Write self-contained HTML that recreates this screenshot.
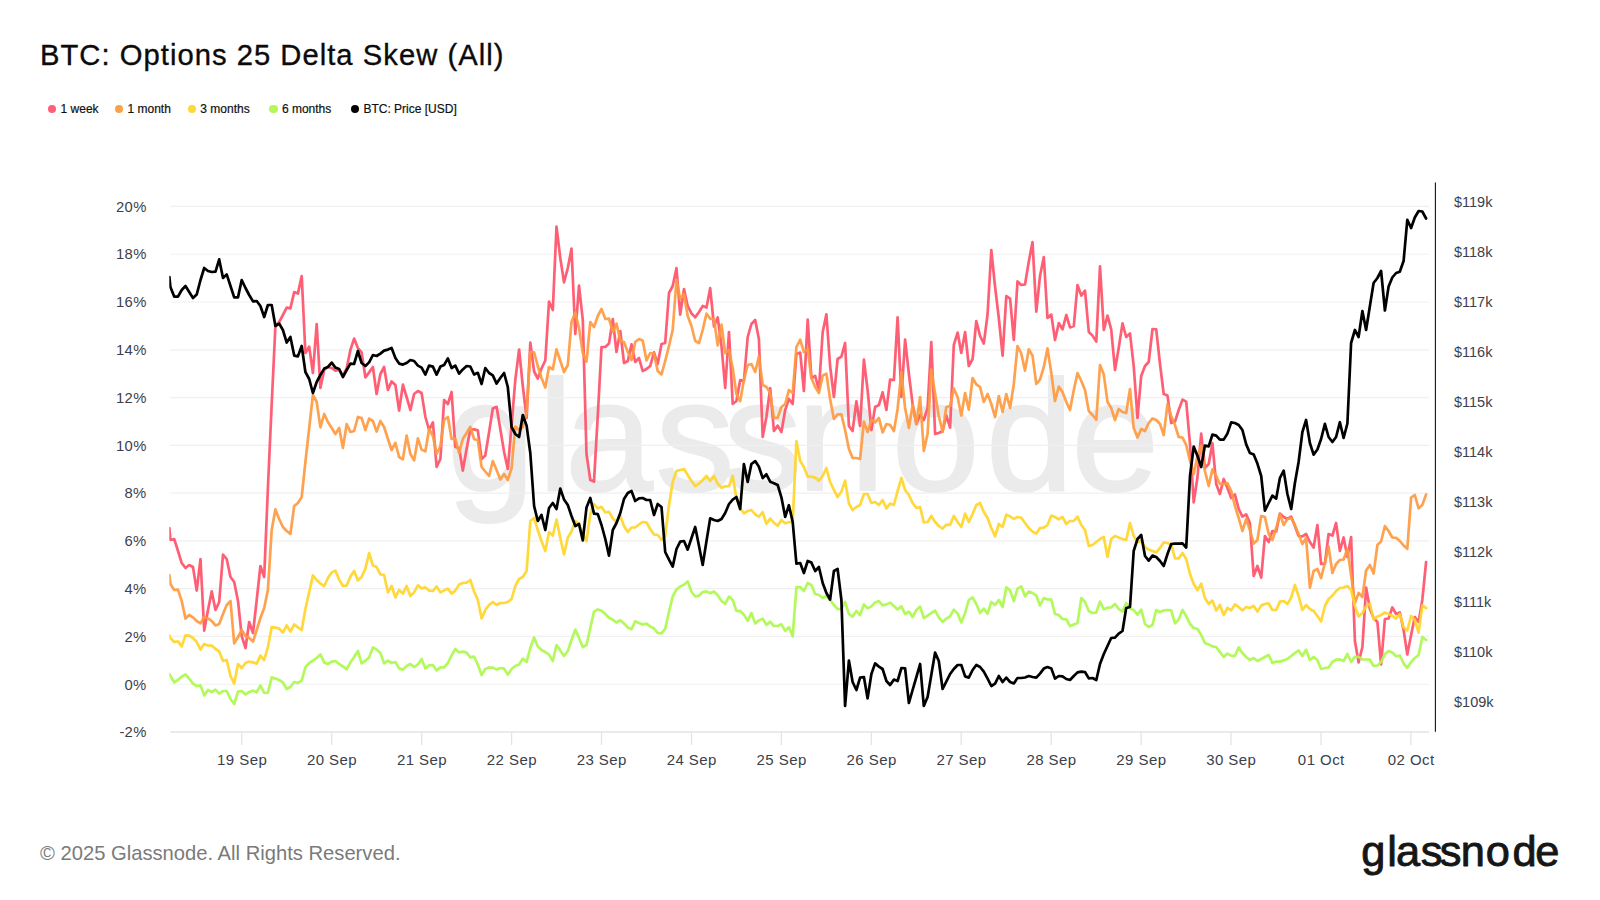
<!DOCTYPE html>
<html lang="en"><head><meta charset="utf-8"><title>BTC: Options 25 Delta Skew (All)</title>
<style>
html,body{margin:0;padding:0;background:#fff;}
body{width:1600px;height:900px;position:relative;overflow:hidden;font-family:"Liberation Sans",sans-serif;}
.title{position:absolute;left:40px;top:34.8px;font-size:29.2px;line-height:40px;color:#0b0b0b;white-space:nowrap;letter-spacing:1.03px;-webkit-text-stroke:0.35px #0b0b0b;}
.legend{position:absolute;top:101px;left:0;height:16px;font-size:12px;line-height:16px;color:#111;white-space:nowrap;-webkit-text-stroke:0.2px #111;}
.legend span.it{position:absolute;top:0;}
.legend i{position:absolute;top:3.7px;width:8.2px;height:8.2px;border-radius:50%;}
.foot{position:absolute;left:40px;top:841px;font-size:20.2px;line-height:24px;color:#7a7a7a;white-space:nowrap;}
svg{position:absolute;left:0;top:0;}
svg text{font-family:"Liberation Sans",sans-serif;}
</style></head><body>
<div class="title">BTC: Options 25 Delta Skew (All)</div>
<div class="legend"><i style="left:47.6px;background:#ff6078"></i><span class="it" style="left:60.6px">1 week</span><i style="left:115px;background:#fda04a"></i><span class="it" style="left:127.5px">1 month</span><i style="left:187.5px;background:#fed836"></i><span class="it" style="left:200.3px">3 months</span><i style="left:269.4px;background:#b3f759"></i><span class="it" style="left:281.9px">6 months</span><i style="left:351px;background:#000"></i><span class="it" style="left:363.4px">BTC: Price [USD]</span></div>
<svg width="1600" height="900" viewBox="0 0 1600 900">
<text x="447.1 538 565 655.4 723.1 796.9 891.8 985.8 1071.2" y="490" font-size="158" fill="#ebebeb" stroke="#ebebeb" stroke-width="2" stroke-linejoin="round">glassnode</text>
<line x1="170.5" x2="1429" y1="732.03" y2="732.03" stroke="#f0f0f0" stroke-width="1.2"/>
<line x1="170.5" x2="1429" y1="684.25" y2="684.25" stroke="#f0f0f0" stroke-width="1.2"/>
<line x1="170.5" x2="1429" y1="636.47" y2="636.47" stroke="#f0f0f0" stroke-width="1.2"/>
<line x1="170.5" x2="1429" y1="588.69" y2="588.69" stroke="#f0f0f0" stroke-width="1.2"/>
<line x1="170.5" x2="1429" y1="540.91" y2="540.91" stroke="#f0f0f0" stroke-width="1.2"/>
<line x1="170.5" x2="1429" y1="493.13" y2="493.13" stroke="#f0f0f0" stroke-width="1.2"/>
<line x1="170.5" x2="1429" y1="445.35" y2="445.35" stroke="#f0f0f0" stroke-width="1.2"/>
<line x1="170.5" x2="1429" y1="397.57" y2="397.57" stroke="#f0f0f0" stroke-width="1.2"/>
<line x1="170.5" x2="1429" y1="349.79" y2="349.79" stroke="#f0f0f0" stroke-width="1.2"/>
<line x1="170.5" x2="1429" y1="302.01" y2="302.01" stroke="#f0f0f0" stroke-width="1.2"/>
<line x1="170.5" x2="1429" y1="254.23" y2="254.23" stroke="#f0f0f0" stroke-width="1.2"/>
<line x1="170.5" x2="1429" y1="206.45" y2="206.45" stroke="#f0f0f0" stroke-width="1.2"/>
<line x1="170.5" x2="1429" y1="731.8" y2="731.8" stroke="#e4e4e4" stroke-width="1.3"/>
<line x1="241.8" x2="241.8" y1="732" y2="745" stroke="#e4e4e4" stroke-width="1.3"/><text x="242.1" y="764.8" text-anchor="middle" font-size="15" letter-spacing="0.45" fill="#3b3f4c">19 Sep</text>
<line x1="331.7" x2="331.7" y1="732" y2="745" stroke="#e4e4e4" stroke-width="1.3"/><text x="332.0" y="764.8" text-anchor="middle" font-size="15" letter-spacing="0.45" fill="#3b3f4c">20 Sep</text>
<line x1="421.7" x2="421.7" y1="732" y2="745" stroke="#e4e4e4" stroke-width="1.3"/><text x="422.0" y="764.8" text-anchor="middle" font-size="15" letter-spacing="0.45" fill="#3b3f4c">21 Sep</text>
<line x1="511.6" x2="511.6" y1="732" y2="745" stroke="#e4e4e4" stroke-width="1.3"/><text x="511.9" y="764.8" text-anchor="middle" font-size="15" letter-spacing="0.45" fill="#3b3f4c">22 Sep</text>
<line x1="601.5" x2="601.5" y1="732" y2="745" stroke="#e4e4e4" stroke-width="1.3"/><text x="601.8" y="764.8" text-anchor="middle" font-size="15" letter-spacing="0.45" fill="#3b3f4c">23 Sep</text>
<line x1="691.5" x2="691.5" y1="732" y2="745" stroke="#e4e4e4" stroke-width="1.3"/><text x="691.8" y="764.8" text-anchor="middle" font-size="15" letter-spacing="0.45" fill="#3b3f4c">24 Sep</text>
<line x1="781.4" x2="781.4" y1="732" y2="745" stroke="#e4e4e4" stroke-width="1.3"/><text x="781.7" y="764.8" text-anchor="middle" font-size="15" letter-spacing="0.45" fill="#3b3f4c">25 Sep</text>
<line x1="871.3" x2="871.3" y1="732" y2="745" stroke="#e4e4e4" stroke-width="1.3"/><text x="871.6" y="764.8" text-anchor="middle" font-size="15" letter-spacing="0.45" fill="#3b3f4c">26 Sep</text>
<line x1="961.2" x2="961.2" y1="732" y2="745" stroke="#e4e4e4" stroke-width="1.3"/><text x="961.5" y="764.8" text-anchor="middle" font-size="15" letter-spacing="0.45" fill="#3b3f4c">27 Sep</text>
<line x1="1051.2" x2="1051.2" y1="732" y2="745" stroke="#e4e4e4" stroke-width="1.3"/><text x="1051.5" y="764.8" text-anchor="middle" font-size="15" letter-spacing="0.45" fill="#3b3f4c">28 Sep</text>
<line x1="1141.1" x2="1141.1" y1="732" y2="745" stroke="#e4e4e4" stroke-width="1.3"/><text x="1141.4" y="764.8" text-anchor="middle" font-size="15" letter-spacing="0.45" fill="#3b3f4c">29 Sep</text>
<line x1="1231.0" x2="1231.0" y1="732" y2="745" stroke="#e4e4e4" stroke-width="1.3"/><text x="1231.3" y="764.8" text-anchor="middle" font-size="15" letter-spacing="0.45" fill="#3b3f4c">30 Sep</text>
<line x1="1321.0" x2="1321.0" y1="732" y2="745" stroke="#e4e4e4" stroke-width="1.3"/><text x="1321.3" y="764.8" text-anchor="middle" font-size="15" letter-spacing="0.45" fill="#3b3f4c">01 Oct</text>
<line x1="1410.9" x2="1410.9" y1="732" y2="745" stroke="#e4e4e4" stroke-width="1.3"/><text x="1411.2" y="764.8" text-anchor="middle" font-size="15" letter-spacing="0.45" fill="#3b3f4c">02 Oct</text>
<text x="146.6" y="737.2" text-anchor="end" font-size="14.8" letter-spacing="0.3" fill="#3b3f4c">-2%</text>
<text x="146.6" y="689.5" text-anchor="end" font-size="14.8" letter-spacing="0.3" fill="#3b3f4c">0%</text>
<text x="146.6" y="641.7" text-anchor="end" font-size="14.8" letter-spacing="0.3" fill="#3b3f4c">2%</text>
<text x="146.6" y="593.9" text-anchor="end" font-size="14.8" letter-spacing="0.3" fill="#3b3f4c">4%</text>
<text x="146.6" y="546.1" text-anchor="end" font-size="14.8" letter-spacing="0.3" fill="#3b3f4c">6%</text>
<text x="146.6" y="498.3" text-anchor="end" font-size="14.8" letter-spacing="0.3" fill="#3b3f4c">8%</text>
<text x="146.6" y="450.6" text-anchor="end" font-size="14.8" letter-spacing="0.3" fill="#3b3f4c">10%</text>
<text x="146.6" y="402.8" text-anchor="end" font-size="14.8" letter-spacing="0.3" fill="#3b3f4c">12%</text>
<text x="146.6" y="355.0" text-anchor="end" font-size="14.8" letter-spacing="0.3" fill="#3b3f4c">14%</text>
<text x="146.6" y="307.2" text-anchor="end" font-size="14.8" letter-spacing="0.3" fill="#3b3f4c">16%</text>
<text x="146.6" y="259.4" text-anchor="end" font-size="14.8" letter-spacing="0.3" fill="#3b3f4c">18%</text>
<text x="146.6" y="211.6" text-anchor="end" font-size="14.8" letter-spacing="0.3" fill="#3b3f4c">20%</text>
<line x1="1435.4" x2="1435.4" y1="182.5" y2="731.8" stroke="#111" stroke-width="1.1"/>
<text x="1454" y="706.5" font-size="14.5" fill="#3b3f4c">$109k</text>
<text x="1454" y="656.5" font-size="14.5" fill="#3b3f4c">$110k</text>
<text x="1454" y="606.6" font-size="14.5" fill="#3b3f4c">$111k</text>
<text x="1454" y="556.6" font-size="14.5" fill="#3b3f4c">$112k</text>
<text x="1454" y="506.7" font-size="14.5" fill="#3b3f4c">$113k</text>
<text x="1454" y="456.8" font-size="14.5" fill="#3b3f4c">$114k</text>
<text x="1454" y="406.8" font-size="14.5" fill="#3b3f4c">$115k</text>
<text x="1454" y="356.8" font-size="14.5" fill="#3b3f4c">$116k</text>
<text x="1454" y="306.9" font-size="14.5" fill="#3b3f4c">$117k</text>
<text x="1454" y="256.9" font-size="14.5" fill="#3b3f4c">$118k</text>
<text x="1454" y="207.0" font-size="14.5" fill="#3b3f4c">$119k</text>
<defs><clipPath id="plot"><rect x="169.3" y="180" width="1262" height="556"/></clipPath></defs>
<g clip-path="url(#plot)">
<polyline fill="none" stroke="#ff5169" stroke-width="2.7" stroke-opacity="0.92" stroke-linejoin="round" stroke-linecap="round" points="169.4,528.0 170.4,540.0 174.2,539.0 178.0,551.0 181.7,563.0 185.5,568.0 189.2,565.0 193.0,567.0 196.7,590.6 200.5,559.0 204.2,630.6 208.0,610.0 211.7,591.4 215.5,610.0 219.2,602.0 223.0,554.6 226.7,559.0 230.5,577.0 234.2,582.0 238.0,601.0 241.7,636.0 245.5,648.0 249.2,622.0 253.0,633.0 256.7,600.0 260.4,566.0 264.2,577.0 267.9,488.0 271.7,404.0 275.4,326.0 279.2,322.0 282.9,315.0 286.7,307.6 290.4,308.4 294.2,292.0 297.9,293.6 301.7,276.0 305.4,353.0 309.2,346.6 312.9,373.0 316.7,324.0 320.4,388.0 324.2,370.0 327.9,367.0 331.7,368.0 335.4,370.6 339.2,370.0 342.9,376.0 346.7,368.0 350.4,350.0 354.1,338.6 357.9,348.0 361.6,352.4 365.4,377.4 369.1,372.4 372.9,367.0 376.6,394.0 380.4,374.0 384.1,367.0 387.9,390.0 391.6,381.4 395.4,385.0 399.1,410.6 402.9,384.6 406.6,397.0 410.4,410.0 414.1,394.0 417.9,391.0 421.6,393.0 425.4,417.0 429.1,430.0 432.9,422.4 436.6,467.0 440.4,459.0 444.1,400.0 447.9,404.0 451.6,392.0 455.3,447.0 459.1,448.0 462.8,470.6 466.6,449.0 470.3,429.5 474.1,429.4 477.8,430.4 481.6,459.0 485.3,455.5 489.1,432.0 492.8,408.5 496.6,406.8 500.3,429.0 504.1,452.0 507.8,469.0 511.6,425.0 515.3,380.0 519.1,349.5 522.8,386.0 526.6,418.0 530.3,342.5 534.1,371.5 537.8,378.5 541.5,368.5 545.3,360.5 549.0,301.6 552.8,310.0 556.5,226.6 560.3,258.0 564.0,282.4 567.8,268.0 571.5,248.6 575.3,334.0 579.0,285.6 582.8,320.0 586.5,454.0 590.3,480.0 594.0,481.6 597.8,415.0 601.5,347.0 605.3,347.0 609.0,343.6 612.8,319.0 616.5,352.0 620.3,331.0 624.0,363.0 627.8,361.0 631.5,344.4 635.2,362.0 639.0,358.0 642.7,371.0 646.5,369.0 650.2,366.0 654.0,352.4 657.7,364.0 661.5,344.0 665.2,343.0 669.0,293.0 672.7,286.0 676.5,268.0 680.2,314.6 684.0,289.0 687.7,306.0 691.5,313.4 695.2,317.4 699.0,312.0 702.7,306.0 706.5,307.6 710.2,288.2 714.0,326.5 717.7,317.4 721.5,346.0 725.2,387.8 729.0,332.0 732.7,404.0 736.4,401.0 740.2,380.0 743.9,381.0 747.7,337.0 751.4,324.0 755.2,320.0 758.9,339.0 762.7,437.0 766.4,417.0 770.2,388.0 773.9,431.0 777.7,425.6 781.4,432.0 785.2,410.0 788.9,399.0 792.7,404.0 796.4,354.0 800.2,352.6 803.9,391.0 807.7,319.6 811.4,378.0 815.2,376.0 818.9,390.0 822.7,332.0 826.4,314.4 830.1,366.0 833.9,397.0 837.6,359.0 841.4,356.6 845.1,343.0 848.9,426.0 852.6,431.0 856.4,401.4 860.1,426.0 863.9,359.6 867.6,390.0 871.4,430.0 875.1,407.0 878.9,405.0 882.6,392.4 886.4,410.0 890.1,379.6 893.9,380.0 897.6,317.4 901.4,397.0 905.1,339.6 908.9,374.0 912.6,404.0 916.4,424.0 920.1,415.0 923.8,420.0 927.6,408.0 931.3,342.0 935.1,434.0 938.8,433.0 942.6,431.0 946.3,415.6 950.1,427.6 953.8,345.0 957.6,332.6 961.3,353.0 965.1,332.0 968.8,366.0 972.6,359.0 976.3,321.0 980.1,336.0 983.8,343.6 987.6,314.0 991.3,250.0 995.1,287.0 998.8,318.0 1002.6,355.6 1006.3,296.0 1010.1,298.6 1013.8,340.0 1017.5,281.4 1021.3,284.9 1025.0,284.5 1028.8,261.5 1032.5,242.0 1036.3,311.6 1040.0,276.0 1043.8,257.0 1047.5,318.0 1051.3,314.6 1055.0,340.0 1058.8,323.0 1062.5,329.4 1066.3,315.0 1070.0,327.4 1073.8,326.0 1077.5,285.0 1081.3,295.6 1085.0,290.6 1088.8,332.0 1092.5,335.6 1096.3,341.6 1100.0,266.4 1103.8,330.0 1107.5,315.6 1111.2,329.4 1115.0,370.0 1118.7,348.0 1122.5,323.4 1126.2,337.0 1130.0,333.4 1133.7,366.0 1137.5,418.0 1141.2,376.0 1145.0,366.0 1148.7,362.0 1152.5,329.0 1156.2,329.4 1160.0,364.0 1163.7,394.0 1167.5,395.6 1171.2,423.0 1175.0,421.6 1178.7,410.0 1182.5,399.6 1186.2,401.6 1190.0,444.0 1193.7,502.4 1197.5,477.0 1201.2,433.6 1204.9,468.0 1208.7,464.0 1212.4,443.0 1216.2,484.0 1219.9,494.0 1223.7,479.0 1227.4,488.0 1231.2,498.0 1234.9,494.4 1238.7,509.0 1242.4,516.6 1246.2,514.4 1249.9,523.0 1253.7,576.0 1257.4,566.0 1261.2,577.6 1264.9,536.0 1268.7,542.0 1272.4,531.0 1276.2,531.4 1279.9,513.6 1283.7,517.0 1287.4,519.0 1291.2,516.6 1294.9,526.0 1298.6,536.0 1302.4,536.4 1306.1,534.0 1309.9,542.0 1313.6,547.6 1317.4,525.0 1321.1,564.0 1324.9,563.6 1328.6,534.0 1332.4,535.6 1336.1,523.0 1339.9,551.0 1343.6,537.5 1347.4,557.0 1351.1,537.0 1354.9,641.0 1358.6,662.5 1362.4,647.0 1366.1,587.5 1369.9,609.0 1373.6,618.0 1377.4,622.0 1381.1,664.5 1384.9,619.0 1388.6,618.5 1392.3,607.5 1396.1,614.0 1399.8,612.5 1403.6,630.0 1407.3,654.5 1411.1,635.0 1414.8,617.0 1418.6,622.0 1422.3,600.0 1426.1,562.0"/>
<polyline fill="none" stroke="#fe9a40" stroke-width="2.7" stroke-opacity="0.92" stroke-linejoin="round" stroke-linecap="round" points="169.4,575.0 170.4,584.0 174.2,590.0 178.0,589.6 181.7,601.0 185.5,618.6 189.2,615.0 193.0,617.4 196.7,621.0 200.5,623.4 204.2,617.0 208.0,618.4 211.7,621.0 215.5,625.4 219.2,624.0 223.0,614.0 226.7,605.0 230.5,601.0 234.2,643.4 238.0,637.0 241.7,630.0 245.5,636.0 249.2,638.0 253.0,641.6 256.7,630.0 260.4,618.0 264.2,608.0 267.9,590.0 271.7,530.0 275.4,509.4 279.2,519.0 282.9,527.0 286.7,531.0 290.4,534.0 294.2,506.0 297.9,503.0 301.7,497.0 305.4,462.0 309.2,428.0 312.9,395.0 316.7,402.0 320.4,427.4 324.2,414.0 327.9,422.0 331.7,428.0 335.4,434.0 339.2,428.0 342.9,448.0 346.7,424.0 350.4,432.0 354.1,431.0 357.9,417.0 361.6,418.0 365.4,430.0 369.1,418.6 372.9,421.0 376.6,431.6 380.4,421.0 384.1,427.0 387.9,439.0 391.6,450.0 395.4,443.0 399.1,457.0 402.9,459.4 406.6,435.6 410.4,454.0 414.1,460.4 417.9,438.4 421.6,449.6 425.4,451.4 429.1,429.0 432.9,436.0 436.6,454.0 440.4,446.0 444.1,420.0 447.9,417.0 451.6,439.0 455.3,438.6 459.1,453.0 462.8,439.0 466.6,433.0 470.3,426.8 474.1,439.2 477.8,440.0 481.6,467.0 485.3,471.5 489.1,476.0 492.8,461.0 496.6,470.0 500.3,479.5 504.1,474.0 507.8,480.0 511.6,468.0 515.3,426.5 519.1,430.0 522.8,427.0 526.6,413.0 530.3,352.0 534.1,352.4 537.8,366.0 541.5,378.0 545.3,387.6 549.0,367.0 552.8,369.4 556.5,349.4 560.3,361.0 564.0,372.0 567.8,365.0 571.5,322.0 575.3,312.4 579.0,328.0 582.8,353.0 586.5,361.6 590.3,322.0 594.0,327.0 597.8,316.0 601.5,309.0 605.3,319.0 609.0,318.6 612.8,332.0 616.5,323.6 620.3,341.0 624.0,342.0 627.8,352.0 631.5,360.0 635.2,342.0 639.0,339.0 642.7,340.4 646.5,360.4 650.2,353.0 654.0,353.6 657.7,371.0 661.5,374.4 665.2,361.0 669.0,346.0 672.7,330.0 676.5,280.0 680.2,299.0 684.0,294.0 687.7,316.0 691.5,326.0 695.2,341.0 699.0,343.0 702.7,330.0 706.5,313.6 710.2,318.8 714.0,319.0 717.7,345.3 721.5,324.7 725.2,353.0 729.0,350.0 732.7,368.0 736.4,394.0 740.2,401.0 743.9,380.0 747.7,365.0 751.4,364.0 755.2,372.0 758.9,356.6 762.7,385.0 766.4,387.0 770.2,393.0 773.9,418.0 777.7,417.6 781.4,407.0 785.2,404.0 788.9,390.0 792.7,393.0 796.4,347.0 800.2,339.6 803.9,352.0 807.7,349.0 811.4,378.0 815.2,387.0 818.9,393.0 822.7,375.6 826.4,373.6 830.1,399.0 833.9,419.0 837.6,414.4 841.4,414.4 845.1,430.0 848.9,449.0 852.6,458.0 856.4,458.0 860.1,459.0 863.9,421.6 867.6,432.0 871.4,420.0 875.1,422.4 878.9,418.0 882.6,432.4 886.4,424.0 890.1,425.0 893.9,431.0 897.6,409.0 901.4,372.0 905.1,408.0 908.9,428.0 912.6,405.0 916.4,424.0 920.1,397.0 923.8,451.0 927.6,433.6 931.3,369.6 935.1,394.0 938.8,416.0 942.6,432.0 946.3,407.0 950.1,406.0 953.8,388.6 957.6,397.0 961.3,415.6 965.1,393.0 968.8,409.6 972.6,378.0 976.3,384.4 980.1,387.0 983.8,402.0 987.6,394.0 991.3,404.0 995.1,417.0 998.8,396.0 1002.6,412.0 1006.3,394.0 1010.1,408.0 1013.8,384.0 1017.5,346.0 1021.3,353.5 1025.0,370.6 1028.8,349.3 1032.5,355.6 1036.3,384.0 1040.0,379.6 1043.8,367.0 1047.5,348.4 1051.3,373.0 1055.0,401.0 1058.8,386.6 1062.5,392.0 1066.3,402.0 1070.0,410.0 1073.8,390.0 1077.5,373.0 1081.3,381.0 1085.0,390.0 1088.8,411.0 1092.5,415.0 1096.3,419.6 1100.0,365.0 1103.8,374.4 1107.5,402.0 1111.2,408.0 1115.0,420.0 1118.7,409.0 1122.5,412.0 1126.2,413.0 1130.0,389.0 1133.7,428.0 1137.5,437.4 1141.2,429.0 1145.0,431.0 1148.7,423.0 1152.5,418.4 1156.2,420.0 1160.0,424.0 1163.7,435.0 1167.5,404.0 1171.2,416.0 1175.0,425.0 1178.7,437.0 1182.5,437.6 1186.2,445.0 1190.0,461.0 1193.7,474.0 1197.5,456.0 1201.2,445.6 1204.9,471.0 1208.7,486.0 1212.4,469.4 1216.2,476.0 1219.9,484.0 1223.7,484.0 1227.4,483.0 1231.2,491.0 1234.9,506.0 1238.7,518.0 1242.4,531.0 1246.2,519.0 1249.9,530.0 1253.7,543.6 1257.4,540.0 1261.2,516.0 1264.9,517.0 1268.7,534.0 1272.4,540.0 1276.2,528.0 1279.9,514.0 1283.7,525.0 1287.4,519.0 1291.2,518.0 1294.9,525.0 1298.6,534.0 1302.4,544.0 1306.1,538.0 1309.9,587.6 1313.6,571.0 1317.4,569.0 1321.1,578.0 1324.9,563.0 1328.6,546.4 1332.4,573.0 1336.1,564.0 1339.9,560.0 1343.6,559.5 1347.4,549.0 1351.1,575.0 1354.9,603.0 1358.6,593.0 1362.4,597.0 1366.1,570.5 1369.9,565.0 1373.6,573.5 1377.4,545.0 1381.1,541.5 1384.9,526.0 1388.6,531.0 1392.3,537.5 1396.1,537.8 1399.8,541.0 1403.6,545.5 1407.3,548.8 1411.1,497.5 1414.8,495.0 1418.6,508.3 1422.3,505.0 1426.1,494.5"/>
<polyline fill="none" stroke="#ffd52a" stroke-width="2.7" stroke-opacity="0.92" stroke-linejoin="round" stroke-linecap="round" points="169.4,635.4 170.4,638.0 174.2,642.0 178.0,641.4 181.7,646.4 185.5,635.4 189.2,635.6 193.0,638.0 196.7,642.0 200.5,649.6 204.2,644.0 208.0,645.6 211.7,645.6 215.5,649.0 219.2,651.4 223.0,661.0 226.7,660.0 230.5,676.0 234.2,683.6 238.0,664.0 241.7,668.0 245.5,663.0 249.2,661.6 253.0,662.4 256.7,663.6 260.4,655.6 264.2,660.0 267.9,647.0 271.7,627.0 275.4,627.6 279.2,628.6 282.9,632.6 286.7,625.4 290.4,631.6 294.2,624.4 297.9,627.4 301.7,630.0 305.4,609.0 309.2,592.0 312.9,575.4 316.7,580.0 320.4,583.6 324.2,586.0 327.9,578.0 331.7,572.4 335.4,570.6 339.2,579.6 342.9,586.0 346.7,585.6 350.4,576.6 354.1,571.0 357.9,580.4 361.6,577.0 365.4,568.6 369.1,553.0 372.9,565.6 376.6,567.0 380.4,574.4 384.1,575.0 387.9,592.4 391.6,586.0 395.4,597.4 399.1,590.0 402.9,593.6 406.6,586.0 410.4,596.0 414.1,592.4 417.9,585.4 421.6,588.4 425.4,587.4 429.1,590.6 432.9,591.0 436.6,586.4 440.4,592.4 444.1,590.4 447.9,588.6 451.6,593.6 455.3,590.6 459.1,584.6 462.8,583.0 466.6,582.6 470.3,580.0 474.1,591.5 477.8,599.7 481.6,618.4 485.3,610.0 489.1,605.0 492.8,602.0 496.6,605.0 500.3,603.0 504.1,603.0 507.8,602.0 511.6,599.0 515.3,586.0 519.1,579.0 522.8,577.0 526.6,571.0 530.3,521.0 534.1,518.0 537.8,530.0 541.5,541.0 545.3,551.0 549.0,532.0 552.8,535.5 556.5,519.5 560.3,538.0 564.0,554.5 567.8,537.5 571.5,531.5 575.3,521.0 579.0,524.0 582.8,534.0 586.5,541.0 590.3,514.0 594.0,504.0 597.8,508.5 601.5,506.8 605.3,512.5 609.0,511.8 612.8,518.5 616.5,522.0 620.3,516.0 624.0,526.0 627.8,532.0 631.5,527.5 635.2,527.5 639.0,524.5 642.7,522.0 646.5,522.5 650.2,529.0 654.0,534.5 657.7,535.0 661.5,540.0 665.2,536.0 669.0,505.0 672.7,482.0 676.5,471.0 680.2,470.0 684.0,469.0 687.7,475.0 691.5,481.0 695.2,486.0 699.0,483.6 702.7,480.0 706.5,476.0 710.2,481.0 714.0,476.0 717.7,483.8 721.5,487.7 725.2,486.3 729.0,486.2 732.7,476.0 736.4,498.0 740.2,508.5 743.9,513.3 747.7,511.0 751.4,510.0 755.2,514.5 758.9,516.7 762.7,512.2 766.4,523.8 770.2,518.6 773.9,522.7 777.7,525.8 781.4,520.0 785.2,523.3 788.9,522.2 792.7,522.0 796.4,441.0 800.2,461.0 803.9,467.0 807.7,476.6 811.4,476.6 815.2,477.6 818.9,480.6 822.7,476.0 826.4,468.0 830.1,482.0 833.9,490.0 837.6,497.0 841.4,491.4 845.1,480.6 848.9,503.4 852.6,510.0 856.4,507.0 860.1,505.0 863.9,494.0 867.6,494.0 871.4,503.0 875.1,502.0 878.9,505.0 882.6,500.0 886.4,508.4 890.1,503.6 893.9,505.0 897.6,491.0 901.4,478.0 905.1,490.0 908.9,495.0 912.6,503.0 916.4,508.0 920.1,507.0 923.8,522.4 927.6,522.0 931.3,516.0 935.1,522.0 938.8,526.0 942.6,528.6 946.3,524.6 950.1,525.0 953.8,516.0 957.6,522.0 961.3,527.0 965.1,513.6 968.8,522.0 972.6,514.0 976.3,505.0 980.1,503.0 983.8,512.0 987.6,518.0 991.3,528.0 995.1,536.4 998.8,524.0 1002.6,527.0 1006.3,514.6 1010.1,516.4 1013.8,519.0 1017.5,517.0 1021.3,517.8 1025.0,523.0 1028.8,528.0 1032.5,531.6 1036.3,533.6 1040.0,528.0 1043.8,527.6 1047.5,525.0 1051.3,515.6 1055.0,517.0 1058.8,519.4 1062.5,517.0 1066.3,524.0 1070.0,521.0 1073.8,521.0 1077.5,516.6 1081.3,525.0 1085.0,530.0 1088.8,546.0 1092.5,545.0 1096.3,542.0 1100.0,539.0 1103.8,537.0 1107.5,557.0 1111.2,539.0 1115.0,536.0 1118.7,537.6 1122.5,539.0 1126.2,540.0 1130.0,523.0 1133.7,536.0 1137.5,542.0 1141.2,541.0 1145.0,547.0 1148.7,549.6 1152.5,551.0 1156.2,552.4 1160.0,548.0 1163.7,542.4 1167.5,543.0 1171.2,544.4 1175.0,558.4 1178.7,558.4 1182.5,553.0 1186.2,559.0 1190.0,574.0 1193.7,584.0 1197.5,590.0 1201.2,583.6 1204.9,598.0 1208.7,604.0 1212.4,600.6 1216.2,610.6 1219.9,605.0 1223.7,615.0 1227.4,608.0 1231.2,610.4 1234.9,604.4 1238.7,607.0 1242.4,610.4 1246.2,607.0 1249.9,608.0 1253.7,606.0 1257.4,611.6 1261.2,605.6 1264.9,604.0 1268.7,603.4 1272.4,610.0 1276.2,610.0 1279.9,601.6 1283.7,601.0 1287.4,604.0 1291.2,597.6 1294.9,585.0 1298.6,596.0 1302.4,610.0 1306.1,605.0 1309.9,609.0 1313.6,611.0 1317.4,616.0 1321.1,621.4 1324.9,606.0 1328.6,599.0 1332.4,595.6 1336.1,591.0 1339.9,588.0 1343.6,587.5 1347.4,586.0 1351.1,590.0 1354.9,606.0 1358.6,616.5 1362.4,613.0 1366.1,606.5 1369.9,603.5 1373.6,619.5 1377.4,616.5 1381.1,615.0 1384.9,612.5 1388.6,614.0 1392.3,616.0 1396.1,618.5 1399.8,614.0 1403.6,627.5 1407.3,630.5 1411.1,616.0 1414.8,620.0 1418.6,632.5 1422.3,605.5 1426.1,608.0"/>
<polyline fill="none" stroke="#adf84e" stroke-width="2.7" stroke-opacity="0.92" stroke-linejoin="round" stroke-linecap="round" points="169.4,674.0 170.4,676.0 174.2,682.4 178.0,680.0 181.7,676.6 185.5,674.4 189.2,678.6 193.0,683.6 196.7,686.0 200.5,685.4 204.2,695.4 208.0,690.0 211.7,692.0 215.5,689.6 219.2,693.6 223.0,691.0 226.7,691.0 230.5,699.0 234.2,704.0 238.0,691.6 241.7,691.0 245.5,694.4 249.2,692.0 253.0,690.6 256.7,692.4 260.4,685.4 264.2,693.0 267.9,692.6 271.7,677.4 275.4,678.6 279.2,680.0 282.9,682.4 286.7,689.0 290.4,687.0 294.2,682.0 297.9,683.0 301.7,680.6 305.4,667.4 309.2,663.0 312.9,660.6 316.7,658.0 320.4,654.4 324.2,662.4 327.9,664.0 331.7,661.6 335.4,661.0 339.2,664.0 342.9,666.4 346.7,669.4 350.4,662.4 354.1,657.0 357.9,651.0 361.6,663.4 365.4,660.6 369.1,657.6 372.9,647.4 376.6,649.6 380.4,653.0 384.1,663.4 387.9,660.6 391.6,663.0 395.4,662.0 399.1,668.4 402.9,669.6 406.6,666.0 410.4,664.0 414.1,667.0 417.9,664.4 421.6,659.0 425.4,668.6 429.1,665.4 432.9,665.0 436.6,670.4 440.4,667.4 444.1,667.4 447.9,663.0 451.6,655.4 455.3,649.0 459.1,652.4 462.8,651.6 466.6,652.6 470.3,657.3 474.1,656.6 477.8,664.5 481.6,675.0 485.3,669.0 489.1,667.6 492.8,667.6 496.6,669.6 500.3,668.0 504.1,668.6 507.8,674.6 511.6,669.0 515.3,666.0 519.1,664.4 522.8,658.6 526.6,662.0 530.3,648.0 534.1,637.4 537.8,646.4 541.5,650.0 545.3,652.0 549.0,654.6 552.8,661.0 556.5,645.0 560.3,650.4 564.0,656.0 567.8,651.0 571.5,640.0 575.3,629.6 579.0,638.0 582.8,647.0 586.5,645.0 590.3,628.0 594.0,611.6 597.8,609.4 601.5,610.8 605.3,614.0 609.0,617.8 612.8,619.8 616.5,622.5 620.3,620.2 624.0,623.5 627.8,627.5 631.5,629.2 635.2,621.2 639.0,623.0 642.7,624.5 646.5,623.6 650.2,626.3 654.0,628.5 657.7,633.0 661.5,633.4 665.2,628.8 669.0,612.0 672.7,596.5 676.5,589.5 680.2,586.5 684.0,584.8 687.7,581.5 691.5,591.7 695.2,596.5 699.0,595.8 702.7,592.0 706.5,591.4 710.2,593.3 714.0,591.5 717.7,595.3 721.5,601.0 725.2,603.9 729.0,596.6 732.7,599.9 736.4,610.9 740.2,610.9 743.9,614.7 747.7,620.9 751.4,613.0 755.2,623.4 758.9,620.4 762.7,618.6 766.4,624.9 770.2,621.7 773.9,626.0 777.7,626.0 781.4,624.3 785.2,630.9 788.9,627.3 792.7,636.4 796.4,587.4 800.2,587.0 803.9,591.0 807.7,583.0 811.4,585.0 815.2,594.0 818.9,595.0 822.7,598.0 826.4,596.0 830.1,600.0 833.9,605.0 837.6,609.0 841.4,609.0 845.1,602.0 848.9,614.0 852.6,616.6 856.4,611.0 860.1,615.0 863.9,604.4 867.6,608.4 871.4,606.4 875.1,602.4 878.9,601.0 882.6,605.4 886.4,604.4 890.1,602.6 893.9,606.0 897.6,609.4 901.4,606.4 905.1,614.0 908.9,611.6 912.6,617.0 916.4,610.0 920.1,606.6 923.8,618.0 927.6,615.6 931.3,613.0 935.1,610.6 938.8,617.4 942.6,622.0 946.3,618.6 950.1,616.4 953.8,609.6 957.6,613.6 961.3,622.4 965.1,613.0 968.8,600.0 972.6,597.4 976.3,604.0 980.1,613.0 983.8,608.6 987.6,613.6 991.3,602.0 995.1,605.0 998.8,600.0 1002.6,607.0 1006.3,587.4 1010.1,590.4 1013.8,601.0 1017.5,588.6 1021.3,586.3 1025.0,596.3 1028.8,591.5 1032.5,593.0 1036.3,595.6 1040.0,605.4 1043.8,598.0 1047.5,599.4 1051.3,599.6 1055.0,614.0 1058.8,615.0 1062.5,619.0 1066.3,619.4 1070.0,626.0 1073.8,624.4 1077.5,623.0 1081.3,598.0 1085.0,602.0 1088.8,611.0 1092.5,613.0 1096.3,612.6 1100.0,601.6 1103.8,609.4 1107.5,607.6 1111.2,607.4 1115.0,604.0 1118.7,609.0 1122.5,611.6 1126.2,603.0 1130.0,608.6 1133.7,610.0 1137.5,614.6 1141.2,609.6 1145.0,624.0 1148.7,627.0 1152.5,625.0 1156.2,610.0 1160.0,612.0 1163.7,610.4 1167.5,610.0 1171.2,610.4 1175.0,623.4 1178.7,619.6 1182.5,610.0 1186.2,616.0 1190.0,624.0 1193.7,628.0 1197.5,629.0 1201.2,635.0 1204.9,643.0 1208.7,644.4 1212.4,646.4 1216.2,647.0 1219.9,652.0 1223.7,657.0 1227.4,653.6 1231.2,655.6 1234.9,656.0 1238.7,647.4 1242.4,653.0 1246.2,657.0 1249.9,660.0 1253.7,658.0 1257.4,661.0 1261.2,659.0 1264.9,657.0 1268.7,655.0 1272.4,663.0 1276.2,661.6 1279.9,661.6 1283.7,660.4 1287.4,659.0 1291.2,656.0 1294.9,653.0 1298.6,650.4 1302.4,656.0 1306.1,649.6 1309.9,660.0 1313.6,657.0 1317.4,660.0 1321.1,669.0 1324.9,668.0 1328.6,667.6 1332.4,662.0 1336.1,659.6 1339.9,659.4 1343.6,661.0 1347.4,654.0 1351.1,662.0 1354.9,656.8 1358.6,656.8 1362.4,659.3 1366.1,659.5 1369.9,659.7 1373.6,666.0 1377.4,665.5 1381.1,662.0 1384.9,654.0 1388.6,651.0 1392.3,652.5 1396.1,656.3 1399.8,655.5 1403.6,663.5 1407.3,667.8 1411.1,662.0 1414.8,658.0 1418.6,655.0 1422.3,637.0 1426.1,640.0"/>
<polyline fill="none" stroke="#000000" stroke-width="2.7" stroke-opacity="1" stroke-linejoin="round" stroke-linecap="round" points="169.4,277.0 170.4,287.0 174.2,296.6 178.0,296.6 181.7,290.0 185.5,286.0 189.2,292.0 193.0,298.0 196.7,294.6 200.5,280.0 204.2,268.0 208.0,271.0 211.7,272.0 215.5,271.6 219.2,259.4 223.0,278.0 226.7,274.4 230.5,286.0 234.2,297.4 238.0,297.4 241.7,280.0 245.5,288.0 249.2,295.0 253.0,301.4 256.7,301.0 260.4,306.0 264.2,317.0 267.9,305.0 271.7,305.0 275.4,326.0 279.2,323.6 282.9,330.0 286.7,342.6 290.4,337.0 294.2,355.6 297.9,356.4 301.7,346.0 305.4,372.0 309.2,379.0 312.9,393.0 316.7,382.0 320.4,375.0 324.2,368.6 327.9,367.0 331.7,362.6 335.4,367.6 339.2,369.0 342.9,377.0 346.7,370.0 350.4,363.6 354.1,364.0 357.9,351.0 361.6,363.0 365.4,366.0 369.1,362.4 372.9,355.0 376.6,356.0 380.4,353.6 384.1,350.6 387.9,349.6 391.6,348.0 395.4,358.0 399.1,363.6 402.9,364.6 406.6,363.0 410.4,360.0 414.1,361.0 417.9,365.6 421.6,367.6 425.4,374.6 429.1,365.6 432.9,366.6 436.6,374.6 440.4,366.6 444.1,365.0 447.9,358.4 451.6,368.0 455.3,365.6 459.1,373.6 462.8,369.4 466.6,366.0 470.3,366.5 474.1,374.5 477.8,372.8 481.6,384.0 485.3,368.0 489.1,373.0 492.8,375.4 496.6,383.6 500.3,378.0 504.1,373.0 507.8,387.0 511.6,427.0 515.3,434.0 519.1,437.0 522.8,415.0 526.6,425.6 530.3,453.0 534.1,506.0 537.8,521.0 541.5,515.0 545.3,530.0 549.0,508.0 552.8,503.0 556.5,509.0 560.3,488.6 564.0,499.4 567.8,505.0 571.5,516.0 575.3,526.0 579.0,524.0 582.8,540.4 586.5,507.5 590.3,498.0 594.0,513.6 597.8,514.1 601.5,525.0 605.3,539.0 609.0,555.6 612.8,530.0 616.5,523.0 620.3,513.0 624.0,499.0 627.8,493.0 631.5,491.0 635.2,501.0 639.0,498.4 642.7,498.0 646.5,500.0 650.2,500.0 654.0,515.0 657.7,504.0 661.5,507.0 665.2,552.0 669.0,559.6 672.7,566.6 676.5,549.0 680.2,541.6 684.0,541.0 687.7,549.6 691.5,538.0 695.2,527.0 699.0,546.0 702.7,565.0 706.5,541.0 710.2,518.3 714.0,520.0 717.7,521.0 721.5,519.0 725.2,513.0 729.0,504.0 732.7,499.6 736.4,497.0 740.2,509.0 743.9,464.0 747.7,482.0 751.4,464.0 755.2,461.1 758.9,466.7 762.7,478.1 766.4,474.3 770.2,481.7 773.9,483.2 777.7,485.0 781.4,497.3 785.2,516.9 788.9,505.2 792.7,522.0 796.4,563.6 800.2,563.0 803.9,573.0 807.7,561.0 811.4,562.6 815.2,571.0 818.9,567.0 822.7,583.0 826.4,593.0 830.1,599.6 833.9,571.0 837.6,569.0 841.4,600.0 845.1,706.0 848.9,660.6 852.6,682.0 856.4,690.0 860.1,677.6 863.9,677.0 867.6,698.4 871.4,674.0 875.1,663.4 878.9,666.6 882.6,669.0 886.4,681.0 890.1,685.0 893.9,679.6 897.6,681.0 901.4,668.0 905.1,668.4 908.9,703.0 912.6,690.0 916.4,677.0 920.1,664.0 923.8,706.0 927.6,697.0 931.3,675.0 935.1,652.6 938.8,661.0 942.6,689.0 946.3,681.6 950.1,674.0 953.8,669.0 957.6,665.0 961.3,665.0 965.1,676.4 968.8,677.6 972.6,670.0 976.3,665.0 980.1,667.0 983.8,671.6 987.6,678.6 991.3,686.0 995.1,683.6 998.8,676.0 1002.6,682.0 1006.3,677.6 1010.1,682.0 1013.8,683.4 1017.5,678.0 1021.3,678.0 1025.0,677.5 1028.8,676.0 1032.5,677.0 1036.3,677.6 1040.0,673.6 1043.8,668.6 1047.5,667.0 1051.3,668.4 1055.0,678.6 1058.8,676.0 1062.5,676.4 1066.3,679.0 1070.0,680.0 1073.8,676.0 1077.5,672.4 1081.3,671.6 1085.0,672.0 1088.8,678.4 1092.5,678.0 1096.3,680.0 1100.0,664.0 1103.8,654.0 1107.5,646.0 1111.2,638.0 1115.0,637.6 1118.7,633.6 1122.5,631.0 1126.2,608.0 1130.0,607.0 1133.7,551.0 1137.5,539.0 1141.2,535.0 1145.0,556.0 1148.7,560.6 1152.5,555.6 1156.2,557.0 1160.0,561.0 1163.7,566.0 1167.5,554.0 1171.2,544.0 1175.0,543.6 1178.7,543.6 1182.5,543.4 1186.2,547.6 1190.0,476.0 1193.7,446.6 1197.5,456.0 1201.2,467.0 1204.9,445.6 1208.7,446.4 1212.4,434.6 1216.2,435.6 1219.9,439.6 1223.7,439.6 1227.4,433.6 1231.2,422.4 1234.9,423.0 1238.7,425.0 1242.4,430.0 1246.2,444.4 1249.9,453.0 1253.7,454.6 1257.4,463.6 1261.2,476.0 1264.9,510.6 1268.7,503.0 1272.4,495.6 1276.2,498.6 1279.9,478.0 1283.7,470.6 1287.4,494.0 1291.2,509.0 1294.9,483.0 1298.6,462.0 1302.4,432.0 1306.1,420.0 1309.9,443.0 1313.6,454.6 1317.4,449.5 1321.1,439.0 1324.9,423.9 1328.6,437.0 1332.4,442.0 1336.1,437.0 1339.9,422.2 1343.6,438.0 1347.4,423.5 1351.1,343.0 1354.9,330.0 1358.6,337.0 1362.4,311.0 1366.1,330.0 1369.9,306.0 1373.6,283.0 1377.4,278.0 1381.1,271.0 1384.9,310.5 1388.6,286.5 1392.3,277.5 1396.1,273.0 1399.8,271.8 1403.6,261.0 1407.3,219.8 1411.1,228.0 1414.8,217.5 1418.6,211.0 1422.3,211.5 1426.1,218.5"/>
</g>
<text x="1361.2 1387.2 1396.0 1420.8 1439.7 1460.8 1485.7 1512.4 1535.2" y="865.6" font-size="43.4" fill="#161616" stroke="#161616" stroke-width="0.9" stroke-linejoin="round">glassnode</text>
</svg>
<div class="foot">© 2025 Glassnode. All Rights Reserved.</div>
</body></html>
